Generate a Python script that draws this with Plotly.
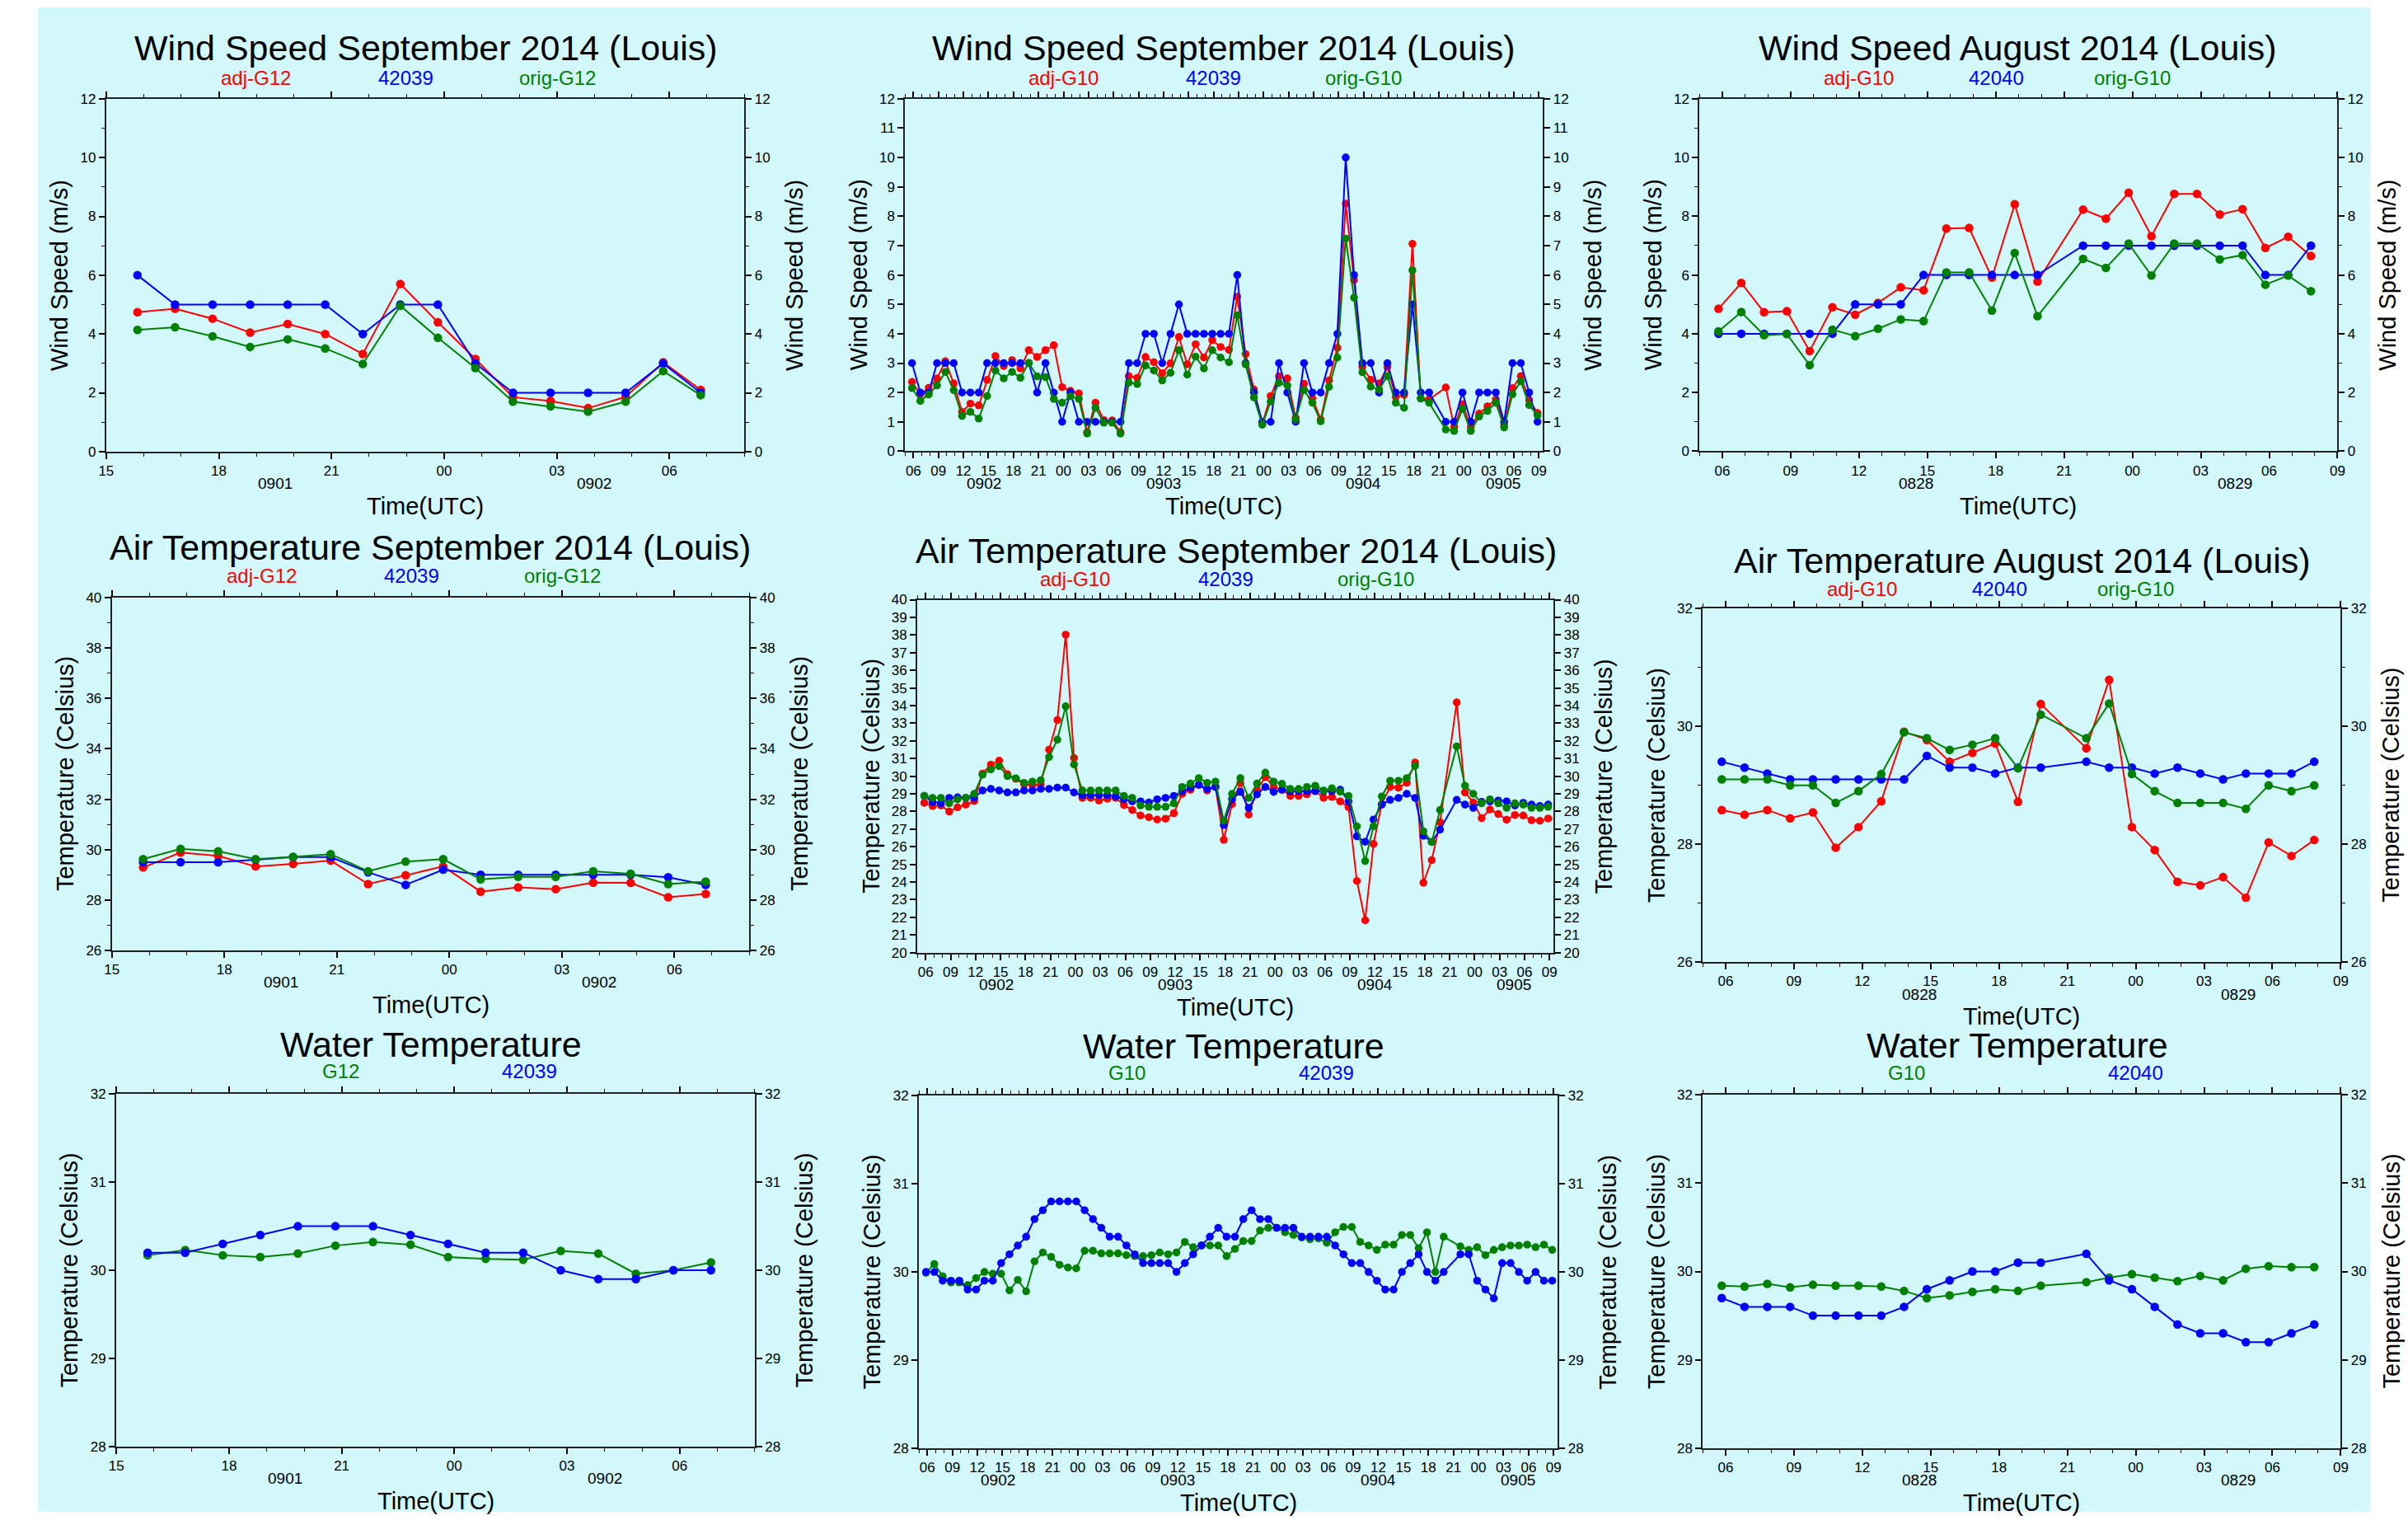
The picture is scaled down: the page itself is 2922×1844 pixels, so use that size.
import plotly.graph_objects as go
import pandas as pd

W, H = 2922, 1844
BG = "#d3f8fb"
RED, BLUE, GREEN = "#ff0000", "#0000ff", "#008000"
FONT = "Liberation Sans, Arial, Helvetica, sans-serif"

# ---------------- observation times (hourly, at hh:50) ----------------
t_sep_short = [t.strftime("%Y-%m-%d %H:%M") for t in pd.date_range("2014-09-01 15:50", periods=16, freq="h")]
t_sep_long = [t.strftime("%Y-%m-%d %H:%M") for t in pd.date_range("2014-09-02 05:50", periods=76, freq="h")]
t_aug = [t.strftime("%Y-%m-%d %H:%M") for t in pd.date_range("2014-08-28 05:50", periods=27, freq="h")]

# ---------------- Wind speed (m/s) ----------------
ws1_adj = [4.74, 4.86, 4.52, 4.05, 4.34, 4.00, 3.32, 5.70, 4.40, 3.15, 1.85, 1.72, 1.48, 1.86, 3.04, 2.10]
ws1_buoy = [6, 5, 5, 5, 5, 5, 4, 5, 5, 3, 2, 2, 2, 2, 3, 2]
ws1_orig = [4.14, 4.23, 3.92, 3.56, 3.82, 3.51, 2.98, 4.96, 3.87, 2.84, 1.70, 1.54, 1.36, 1.70, 2.74, 1.92]

ws2_adj = [2.36, 1.94, 2.16, 2.48, 3.06, 2.31, 1.34, 1.62, 1.56, 2.43,
           3.24, 2.90, 3.10, 2.82, 3.44, 3.21, 3.44, 3.61, 2.18, 2.06,
           1.97, 0.65, 1.65, 1.06, 1.05, 0.65, 2.56, 2.50, 3.21, 3.03,
           2.66, 2.99, 3.89, 2.96, 3.64, 3.19, 3.78, 3.55, 3.45, 5.26,
           3.31, 2.10, 0.94, 1.88, 2.55, 2.48, 1.14, 2.30, 1.80, 1.08,
           2.41, 3.52, 8.43, 5.83, 2.87, 2.43, 2.31, 2.87, 1.85, 1.92,
           7.06, 1.80, 1.76, None, 2.17, 0.83, 1.60, 0.83, 1.28, 1.53,
           1.76, 0.88, 2.15, 2.56, 1.74, 1.30]
ws2_buoy = [3, 2, 2, 3, 3, 3, 2, 2, 2, 3,
            3, 3, 3, 3, 3, 2, 3, 2, 1, 2,
            1, 1, 1, 1, 1, 1, 3, 3, 4, 4,
            3, 4, 5, 4, 4, 4, 4, 4, 4, 6,
            3, 2, 1, 1, 3, 2, 1, 3, 2, 2,
            3, 4, 10, 6, 3, 3, 2, 3, 2, 2,
            5, 2, 2, None, 1, 1, 2, 1, 2, 2,
            2, 1, 3, 3, 2, 1]
ws2_orig = [2.15, 1.71, 1.93, 2.24, 2.70, 2.08, 1.20, 1.34, 1.11, 1.88,
            2.75, 2.48, 2.70, 2.50, 3.01, 2.55, 2.52, 1.78, 1.65, 1.87,
            1.78, 0.60, 1.48, 0.97, 0.97, 0.60, 2.34, 2.29, 2.92, 2.75,
            2.41, 2.67, 3.44, 2.61, 3.22, 2.82, 3.44, 3.19, 3.03, 4.63,
            2.96, 1.83, 0.90, 1.69, 2.33, 2.24, 1.08, 2.08, 1.65, 1.02,
            2.19, 3.19, 7.24, 5.23, 2.69, 2.20, 2.10, 2.56, 1.65, 1.48,
            6.16, 1.79, 1.65, None, 0.74, 0.69, 1.44, 0.69, 1.18, 1.37,
            1.65, 0.81, 1.94, 2.38, 1.57, 1.22]

ws3_adj = [4.85, 5.73, 4.73, 4.77, 3.41, 4.90, 4.65, 5.05, 5.58, 5.48, 7.58, 7.60, 5.91, 8.41,
           5.78, None, 8.23, 7.92, 8.80, 7.32, 8.76, 8.76, 8.06, 8.24, 6.92, 7.30, 6.65]
ws3_buoy = [4, 4, 4, 4, 4, 4, 5, 5, 5, 6, 6, 6, 6, 6, 6, None, 7, 7, 7, 7, 7, 7, 7, 7, 6, 6, 7]
ws3_orig = [4.08, 4.74, 3.95, 3.99, 2.93, 4.14, 3.92, 4.17, 4.49, 4.43, 6.09, 6.09, 4.79, 6.75,
            4.60, None, 6.55, 6.24, 7.07, 5.98, 7.07, 7.07, 6.53, 6.68, 5.67, 5.98, 5.45]

# ---------------- Air temperature (Celsius) ----------------
at4_adj = [29.29, 29.88, 29.75, 29.33, 29.43, 29.56, 28.63, 28.98, 29.33, 28.33, 28.50, 28.43, 28.69, 28.68, 28.11, 28.24]
at4_buoy = [29.5, 29.5, 29.5, 29.6, 29.7, 29.7, 29.1, 28.6, 29.2, 29.0, 29.0, 29.0, 29.0, 29.0, 28.9, 28.6]
at4_orig = [29.62, 30.03, 29.93, 29.62, 29.71, 29.82, 29.14, 29.52, 29.62, 28.82, 28.92, 28.92, 29.14, 29.04, 28.63, 28.73]

at5_adj = [28.49, 28.31, 28.34, 27.99, 28.23, 28.39, 28.59, 30.15, 30.65, 30.88,
           30.11, 29.85, 29.54, 29.49, 29.54, 31.50, 33.18, 38.02, 31.03, 28.77,
           28.77, 28.62, 28.72, 28.77, 28.36, 28.08, 27.77, 27.67, 27.54, 27.59,
           27.90, 29.00, 29.23, 29.51, 29.19, 29.39, 26.39, 28.42, 29.62, 27.82,
           29.23, 29.95, 29.39, 29.23, 28.88, 28.88, 28.97, 29.16, 28.77, 28.82,
           28.57, 28.23, 24.06, 21.83, 26.16, 28.42, 29.39, 29.34, 29.62, 30.77,
           23.96, 25.24, 27.39, None, 34.18, 29.08, 28.51, 27.62, 28.11, 27.85,
           27.53, 27.80, 27.77, 27.50, 27.47, 27.60]
at5_buoy = [28.88, 28.54, 28.46, 28.77, 28.80, 28.77, 28.77, 29.19, 29.28, 29.19,
            29.08, 29.08, 29.19, 29.19, 29.28, 29.28, 29.35, 29.35, 29.08, 28.92,
            28.92, 28.92, 28.92, 28.85, 28.69, 28.57, 28.57, 28.51, 28.69, 28.77,
            28.88, 29.15, 29.34, 29.51, 29.28, 29.39, 27.23, 28.69, 29.11, 28.20,
            28.97, 29.39, 29.11, 29.23, 29.15, 29.15, 29.15, 29.15, 29.15, 29.15,
            29.23, 28.57, 26.59, 26.28, 27.54, 28.39, 28.66, 28.77, 29.00, 28.77,
            26.62, 26.27, 26.97, None, 28.66, 28.39, 28.20, 28.54, 28.57, 28.62,
            28.57, 28.34, 28.49, 28.39, 28.31, 28.39]
at5_orig = [28.88, 28.77, 28.77, 28.46, 28.69, 28.77, 29.00, 30.08, 30.38, 30.57,
            30.00, 29.88, 29.62, 29.69, 29.77, 31.08, 32.07, 33.96, 30.66, 29.19,
            29.19, 29.19, 29.19, 29.19, 28.88, 28.77, 28.34, 28.26, 28.26, 28.26,
            28.46, 29.39, 29.58, 29.89, 29.62, 29.69, 27.47, 29.00, 29.89, 28.77,
            29.58, 30.20, 29.69, 29.57, 29.28, 29.28, 29.39, 29.46, 29.19, 29.31,
            29.12, 28.88, 27.16, 25.19, 27.16, 28.85, 29.74, 29.74, 29.89, 30.58,
            26.88, 26.27, 28.08, None, 31.69, 29.46, 29.00, 28.46, 28.69, 28.46,
            28.20, 28.46, 28.39, 28.20, 28.20, 28.26]

at6_adj = [28.58, 28.50, 28.58, 28.44, 28.54, 27.94, 28.29, 28.73, 29.91, 29.77, 29.40, 29.55, 29.71, 28.72,
           30.38, None, 29.63, 30.79, 28.29, 27.90, 27.36, 27.30, 27.44, 27.09, 28.03, 27.80, 28.07]
at6_buoy = [29.4, 29.3, 29.2, 29.1, 29.1, 29.1, 29.1, 29.1, 29.1, 29.5, 29.3, 29.3, 29.2, 29.3,
            29.3, None, 29.4, 29.3, 29.3, 29.2, 29.3, 29.2, 29.1, 29.2, 29.2, 29.2, 29.4]
at6_orig = [29.10, 29.10, 29.10, 29.00, 29.00, 28.70, 28.90, 29.19, 29.90, 29.80, 29.60, 29.69, 29.80, 29.29,
            30.20, None, 29.80, 30.39, 29.19, 28.90, 28.70, 28.70, 28.70, 28.60, 29.00, 28.90, 29.00]

# ---------------- Water temperature (Celsius) ----------------
wt7_buoy = [30.2, 30.2, 30.3, 30.4, 30.5, 30.5, 30.5, 30.4, 30.3, 30.2, 30.2, 30.0, 29.9, 29.9, 30.0, 30.0]
wt7_goes = [30.17, 30.23, 30.17, 30.15, 30.19, 30.28, 30.32, 30.29, 30.15, 30.13, 30.12, 30.22, 30.19, 29.96, 30.00, 30.09]

wt8_buoy = [30.0, 30.0, 29.9, 29.9, 29.9, 29.8, 29.8, 29.9, 29.9, 30.1,
            30.2, 30.3, 30.4, 30.6, 30.7, 30.8, 30.8, 30.8, 30.8, 30.7,
            30.6, 30.5, 30.4, 30.4, 30.3, 30.2, 30.1, 30.1, 30.1, 30.1,
            30.0, 30.1, 30.2, 30.3, 30.4, 30.5, 30.4, 30.4, 30.6, 30.7,
            30.6, 30.6, 30.5, 30.5, 30.5, 30.4, 30.4, 30.4, 30.4, 30.3,
            30.2, 30.1, 30.1, 30.0, 29.9, 29.8, 29.8, 30.0, 30.1, 30.2,
            30.0, 29.9, 30.0, None, 30.2, 30.2, 29.9, 29.8, 29.7, 30.1,
            30.1, 30.0, 29.9, 30.0, 29.9, 29.9]
wt8_goes = [29.99, 30.09, 29.95, 29.88, 29.88, 29.85, 29.93, 30.00, 29.98, 29.98,
            29.79, 29.91, 29.78, 30.12, 30.22, 30.17, 30.08, 30.05, 30.04, 30.24,
            30.24, 30.21, 30.21, 30.21, 30.19, 30.18, 30.18, 30.19, 30.22, 30.20,
            30.22, 30.34, 30.28, 30.30, 30.30, 30.30, 30.18, 30.26, 30.35, 30.35,
            30.47, 30.50, 30.50, 30.45, 30.42, 30.39, 30.37, 30.38, 30.33, 30.45,
            30.51, 30.51, 30.34, 30.30, 30.25, 30.31, 30.31, 30.42, 30.42, 30.27,
            30.45, 30.00, 30.40, None, 30.29, 30.25, 30.28, 30.19, 30.25, 30.28,
            30.30, 30.30, 30.31, 30.28, 30.31, 30.25]

wt9_buoy = [29.7, 29.6, 29.6, 29.6, 29.5, 29.5, 29.5, 29.5, 29.6, 29.8, 29.9, 30.0, 30.0, 30.1,
            30.1, None, 30.2, 29.9, 29.8, 29.6, 29.4, 29.3, 29.3, 29.2, 29.2, 29.3, 29.4]
wt9_goes = [29.84, 29.83, 29.86, 29.82, 29.85, 29.84, 29.84, 29.83, 29.78, 29.70, 29.73, 29.77, 29.80, 29.78,
            29.84, None, 29.88, 29.93, 29.97, 29.93, 29.89, 29.95, 29.90, 30.03, 30.06, 30.05, 30.05]

# ---------------- text ----------------
titles = ["Wind Speed September 2014 (Louis)", "Wind Speed September 2014 (Louis)", "Wind Speed August 2014 (Louis)",
          "Air Temperature September 2014 (Louis)", "Air Temperature September 2014 (Louis)",
          "Air Temperature August 2014 (Louis)", "Water Temperature", "Water Temperature", "Water Temperature"]
ylabels = ["Wind Speed (m/s)"] * 3 + ["Temperature (Celsius)"] * 6
xlabel = "Time(UTC)"

# ---------------- panel layout (pixel boxes) ----------------
range_short = ["2014-09-01 15:00", "2014-09-02 08:00"]
range_long = ["2014-09-02 05:00", "2014-09-05 09:30"]
range_aug = ["2014-08-28 05:00", "2014-08-29 09:00"]

panels = [
    dict(box=(120.6, 900, 112, 544.5), t=t_sep_short, xr=range_short, yr=[0, 12], dy=2, minor=1, ms=10.5,
         series=[(ws1_adj, RED), (ws1_buoy, BLUE), (ws1_orig, GREEN)],
         leg=[("adj-G12", 0.235, RED), ("42039", 0.469, BLUE), ("orig-G12", 0.707, GREEN)],
         title=(511, 50), legy=86, days=["0901", "0902"]),
    dict(box=(1096, 1875, 112, 544), t=t_sep_long, xr=range_long, yr=[0, 12], dy=1, minor=None, ms=9.5,
         series=[(ws2_adj, RED), (ws2_buoy, BLUE), (ws2_orig, GREEN)],
         leg=[("adj-G10", 0.248, RED), ("42039", 0.483, BLUE), ("orig-G10", 0.718, GREEN)],
         title=(1485, 50), legy=86, days=["0902", "0903", "0904", "0905"]),
    dict(box=(2066, 2845, 112, 544), t=t_aug, xr=range_aug, yr=[0, 12], dy=2, minor=1, ms=10.5,
         series=[(ws3_adj, RED), (ws3_buoy, BLUE), (ws3_orig, GREEN)],
         leg=[("adj-G10", 0.25, RED), ("42040", 0.465, BLUE), ("orig-G10", 0.679, GREEN)],
         title=(2455, 50), legy=86, days=["0828", "0829"]),
    dict(box=(127.5, 906, 723.6, 1155.8), t=t_sep_short, xr=range_short, yr=[26, 40], dy=2, minor=1, ms=10.5,
         series=[(at4_adj, RED), (at4_buoy, BLUE), (at4_orig, GREEN)],
         leg=[("adj-G12", 0.235, RED), ("42039", 0.47, BLUE), ("orig-G12", 0.707, GREEN)],
         title=(516, 662), legy=697, days=["0901", "0902"]),
    dict(box=(1111, 1888, 726, 1158.6), t=t_sep_long, xr=range_long, yr=[20, 40], dy=1, minor=None, ms=9.5,
         series=[(at5_adj, RED), (at5_buoy, BLUE), (at5_orig, GREEN)],
         leg=[("adj-G10", 0.248, RED), ("42039", 0.485, BLUE), ("orig-G10", 0.72, GREEN)],
         title=(1500, 665.5), legy=701, days=["0902", "0903", "0904", "0905"]),
    dict(box=(2070, 2849, 737, 1170), t=t_aug, xr=range_aug, yr=[26, 32], dy=2, minor=1, ms=10.5,
         series=[(at6_adj, RED), (at6_buoy, BLUE), (at6_orig, GREEN)],
         leg=[("adj-G10", 0.25, RED), ("42040", 0.465, BLUE), ("orig-G10", 0.678, GREEN)],
         title=(2460, 677.7), legy=713, days=["0828", "0829"]),
    dict(box=(133, 912.5, 1332, 1764), t=t_sep_short, xr=range_short, yr=[28, 32], dy=1, minor=None, ms=10.5,
         series=[(wt7_goes, GREEN), (wt7_buoy, BLUE)],
         leg=[("G12", 0.352, GREEN), ("42039", 0.647, BLUE)],
         title=(517, 1271), legy=1303.6, days=["0901", "0902"]),
    dict(box=(1113, 1893, 1334, 1766), t=t_sep_long, xr=range_long, yr=[28, 32], dy=1, minor=None, ms=9.5,
         series=[(wt8_goes, GREEN), (wt8_buoy, BLUE)],
         leg=[("G10", 0.326, GREEN), ("42039", 0.638, BLUE)],
         title=(1497, 1273), legy=1305.5, days=["0902", "0903", "0904", "0905"]),
    dict(box=(2070, 2849, 1333, 1766), t=t_aug, xr=range_aug, yr=[28, 32], dy=1, minor=None, ms=10.5,
         series=[(wt9_goes, GREEN), (wt9_buoy, BLUE)],
         leg=[("G10", 0.32, GREEN), ("42040", 0.678, BLUE)],
         title=(2454, 1272), legy=1305.5, days=["0828", "0829"]),
]


def px(x):
    return x / W


def py(y):
    return 1 - y / H


def day_midpoints(xr, days):
    """Centre of each day's visible part of the axis range."""
    a, b = pd.Timestamp(xr[0]), pd.Timestamp(xr[1])
    out = []
    for d in days:
        day0 = pd.Timestamp(f"{a.year}-{d[:2]}-{d[2:]} 00:00")
        lo, hi = max(a, day0), min(b, day0 + pd.Timedelta(hours=24))
        out.append((d, (lo + (hi - lo) / 2).strftime("%Y-%m-%d %H:%M")))
    return out


fig = go.Figure()
layout = {}
ann = []

tickfont = dict(family=FONT, size=17, color="black")
common = dict(ticks="outside", ticklen=7, tickwidth=1.5, tickcolor="black", showline=True,
              linecolor="#222222", linewidth=2, showgrid=False, zeroline=False, tickfont=tickfont)

for k, p in enumerate(panels, start=1):
    x0, x1, y0, y1 = p["box"]
    xkey = "xaxis" if k == 1 else f"xaxis{k}"
    ykey = "yaxis" if k == 1 else f"yaxis{k}"
    xref = "x" if k == 1 else f"x{k}"
    yref = "y" if k == 1 else f"y{k}"
    y2key, y2ref = f"yaxis{k + 9}", f"y{k + 9}"

    for vals, color in p["series"]:
        fig.add_trace(go.Scatter(x=p["t"], y=vals, mode="lines+markers", connectgaps=True,
                                 line=dict(color=color, width=2),
                                 marker=dict(color=color, size=p["ms"]),
                                 xaxis=xref, yaxis=yref, hoverinfo="skip", showlegend=False))
    # carrier for right-hand axis
    fig.add_trace(go.Scatter(x=[p["t"][0]], y=[None], mode="markers", marker=dict(opacity=0),
                             xaxis=xref, yaxis=y2ref, hoverinfo="skip", showlegend=False))

    layout[xkey] = dict(domain=[px(x0), px(x1)], anchor=yref, type="date", range=p["xr"],
                        tickformat="%H", dtick=3 * 3600000, tick0="2014-08-28 00:00", mirror="ticks",
                        minor=dict(dtick=3600000, ticks="outside", ticklen=4, tickwidth=1, tickcolor="black"),
                        **common)
    yminor = dict(dtick=p["minor"], ticks="outside", ticklen=4, tickwidth=1, tickcolor="black") if p["minor"] else None
    ya = dict(domain=[py(y1), py(y0)], anchor=xref, range=p["yr"], dtick=p["dy"], tick0=0, **common)
    yb = dict(overlaying=yref, anchor=xref, side="right", range=p["yr"], dtick=p["dy"], tick0=0, **common)
    if yminor:
        ya["minor"] = yminor
        yb["minor"] = yminor
    layout[ykey] = ya
    layout[y2key] = yb

    # title
    ann.append(dict(text=titles[k - 1], x=px(p["title"][0]), y=py(p["title"][1]), xref="paper", yref="paper",
                    showarrow=False, xanchor="center", yanchor="middle",
                    font=dict(family=FONT, size=43, color="black")))
    # coloured series labels
    for txt, fx, col in p["leg"]:
        ann.append(dict(text=txt, x=px(x0 + fx * (x1 - x0)), y=py(p["legy"]), xref="paper", yref="paper",
                        showarrow=False, xanchor="center", yanchor="middle",
                        font=dict(family=FONT, size=24, color=col)))
    # y-axis titles (left and right)
    for xx in (x0 - 57, x1 + 61):
        ann.append(dict(text=ylabels[k - 1], x=px(xx), y=py((y0 + y1) / 2), xref="paper", yref="paper",
                        showarrow=False, textangle=-90, xanchor="center", yanchor="middle",
                        font=dict(family=FONT, size=29, color="black")))
    # x-axis title
    ann.append(dict(text=xlabel, x=px((x0 + x1) / 2), y=py(y1 + 67), xref="paper", yref="paper",
                    showarrow=False, xanchor="center", yanchor="middle",
                    font=dict(family=FONT, size=29, color="black")))
    # day labels
    for d, mid in day_midpoints(p["xr"], p["days"]):
        ann.append(dict(text=d, x=mid, y=py(y1 + 39.5), xref=xref, yref="paper",
                        showarrow=False, xanchor="center", yanchor="middle",
                        font=dict(family=FONT, size=19, color="black")))

fig.update_layout(
    width=W, height=H, autosize=False,
    margin=dict(l=0, r=0, t=0, b=0, pad=0),
    paper_bgcolor="white", plot_bgcolor=BG,
    showlegend=False, hovermode=False,
    annotations=ann,
    shapes=[dict(type="rect", xref="paper", yref="paper", x0=px(37), x1=px(2885), y0=0, y1=1,
                 fillcolor=BG, line=dict(width=0), layer="below")],
    **layout,
)

fig.write_html("out.html", config={"displayModeBar": False},
               post_script="document.body.style.margin='0';document.body.style.overflow='hidden';")
